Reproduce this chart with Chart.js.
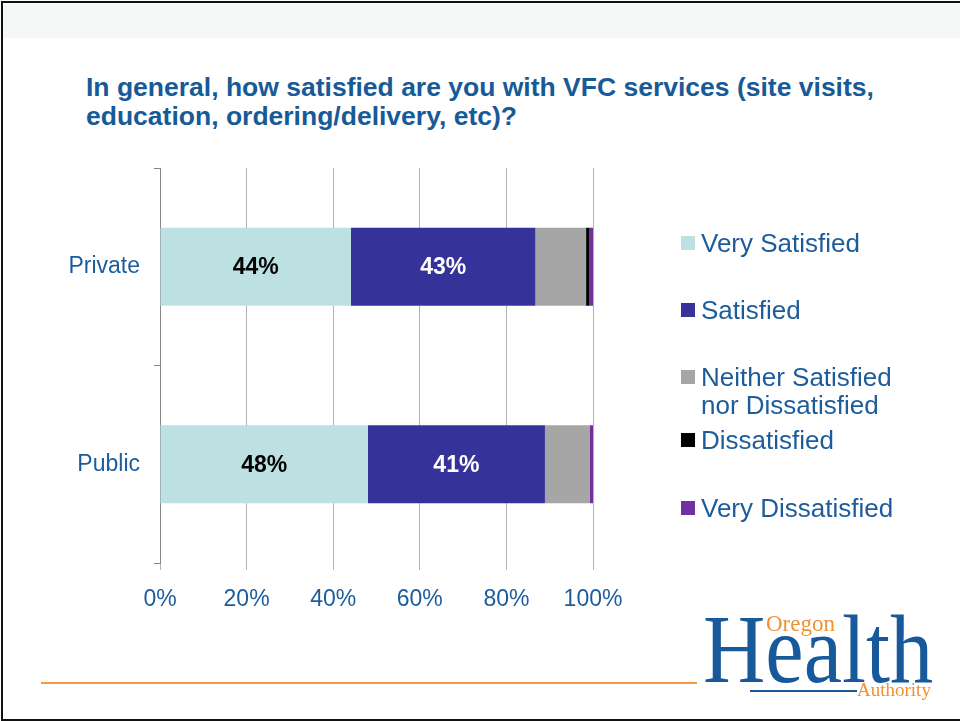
<!DOCTYPE html>
<html>
<head>
<meta charset="utf-8">
<script src="https://cdn.jsdelivr.net/npm/chart.js@4.4.0/dist/chart.umd.min.js"></script>
<style>
body { margin:0; width:960px; height:721px; position:relative; overflow:hidden; background:#fff; font-family:"Liberation Sans", Arial, sans-serif; }
#frame { position:absolute; left:1px; top:1px; width:980px; height:716px; border:2px solid #111; border-right:none; }
#band { position:absolute; left:3px; top:4px; width:960px; height:34px; background:#f4f8f7; }
#title { position:absolute; left:86px; top:73px; font-weight:bold; font-size:26.5px; line-height:28.5px; color:#175a98; white-space:nowrap; }
#chart { position:absolute; left:0; top:0; }
#legend { position:absolute; left:681px; top:0; }
.item { position:absolute; left:0; width:240px; }
.item i { position:absolute; left:0; top:7px; width:14px; height:14px; }
.item span { position:absolute; left:20px; width:215px; font-size:26px; line-height:28px; color:#1d5c9b; }
#rule { position:absolute; left:41px; top:682px; width:656px; height:2px; background:#f59a3e; }
#logo-health { position:absolute; left:703px; top:601px; font-family:"Liberation Serif", "DejaVu Serif", serif; font-size:97px; line-height:97px; color:#17599b; transform:scaleX(0.89); transform-origin:left top; }
#logo-oregon { position:absolute; left:766px; top:612px; font-family:"Liberation Serif", serif; font-size:23px; line-height:23px; color:#f0922e; }
#logo-auth { position:absolute; left:857px; top:680px; font-family:"Liberation Serif", serif; font-size:19px; line-height:20px; color:#f0922e; }
#logo-line { position:absolute; left:750px; top:690px; width:107px; height:2px; background:#17599b; }
</style>
</head>
<body>
<div id="band"></div>
<div id="frame"></div>
<div id="title">In general, how satisfied are you with VFC services (site visits,<br>education, ordering/delivery, etc)?</div>
<canvas id="chart" width="960" height="721"></canvas>
<div id="legend"></div>
<div id="rule"></div>
<div id="logo-health">Health</div>
<div id="logo-oregon">Oregon</div>
<div id="logo-line"></div>
<div id="logo-auth">Authority</div>
<script>
// ข้อมูลจากภาพ (เปอร์เซ็นต์)
var categories = ['Private', 'Public'];
var seriesNames = ['Very Satisfied', 'Satisfied', 'Neither Satisfied nor Dissatisfied', 'Dissatisfied', 'Very Dissatisfied'];
var verySatisfied = [44.1, 48.0];
var satisfied = [42.6, 40.9];
var neither = [11.7, 10.4];
var dissatisfied = [0.8, 0];
var veryDissatisfied = [0.8, 0.7];
var xTicks = [0, 20, 40, 60, 80, 100];

var colors = ['#bde0e3', '#35339a', '#a6a6a6', '#000000', '#7030a0'];
var labelColors = ['#000000', '#ffffff']; // ป้ายบนแท่ง 2 ชุดแรก
var legendTops = [229, 296, 363, 426, 494];
var textBlue = '#1d5c9b';

Chart.defaults.font.family = '"Liberation Sans", Arial, sans-serif';

// วาดตัวเลขบนแท่ง
var barLabels = {
    id: 'barLabels',
    afterDatasetsDraw: function(chart) {
        var ctx = chart.ctx;
        ctx.save();
        ctx.font = 'bold 23px "Liberation Sans", Arial';
        ctx.textAlign = 'center';
        ctx.textBaseline = 'middle';
        labelColors.forEach(function(col, i) {
            chart.getDatasetMeta(i).data.forEach(function(bar, j) {
                var p = bar.getCenterPoint();
                ctx.fillStyle = col;
                ctx.fillText(Math.round(chart.data.datasets[i].data[j]) + '%', p.x, p.y + 1);
            });
        });
        ctx.restore();
    }
};

var allSeries = [verySatisfied, satisfied, neither, dissatisfied, veryDissatisfied];

var ctx = document.getElementById('chart').getContext('2d');
var myChart = new Chart(ctx, {
    type: 'bar',
    data: {
        labels: categories,
        datasets: allSeries.map(function(d, i) {
            return {
                label: seriesNames[i],
                data: d,
                backgroundColor: colors[i],
                borderWidth: 0,
                barPercentage: 0.395,
                categoryPercentage: 1
            };
        })
    },
    options: {
        indexAxis: 'y',
        responsive: false,
        animation: false,
        layout: { padding: { top: 168, right: 367, bottom: 98, left: 0 } },
        plugins: { legend: { display: false }, tooltip: { enabled: false } },
        scales: {
            x: {
                stacked: true,
                min: 0,
                max: 100,
                afterBuildTicks: function(s) { s.ticks = xTicks.map(function(v) { return { value: v }; }); },
                afterFit: function(s) { s.height = 60; },
                border: { display: false },
                grid: { color: '#b4b4b4', tickLength: 7 },
                ticks: {
                    color: textBlue,
                    font: { size: 23 },
                    padding: 16,
                    callback: function(v) { return v + '%'; }
                }
            },
            y: {
                stacked: true,
                afterFit: function(s) { s.width = 160; },
                border: { display: true, color: '#868686' },
                grid: { drawOnChartArea: false, color: '#868686', tickLength: 6 },
                ticks: { color: textBlue, font: { size: 23 }, padding: 14 }
            }
        }
    },
    plugins: [barLabels]
});

// คำอธิบายสัญลักษณ์ด้านขวา
var legend = document.getElementById('legend');
seriesNames.forEach(function(name, i) {
    var item = document.createElement('div');
    item.className = 'item';
    item.style.top = legendTops[i] + 'px';
    item.innerHTML = '<i style="background:' + colors[i] + '"></i><span>' + name + '</span>';
    legend.appendChild(item);
});
</script>
</body>
</html>
